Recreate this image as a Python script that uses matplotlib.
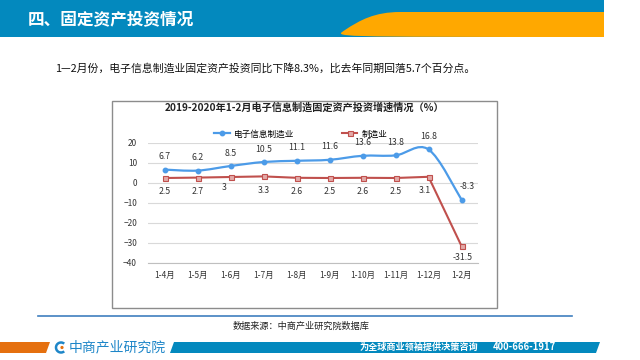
import matplotlib
matplotlib.use('Agg')
import matplotlib.pyplot as plt
from matplotlib.path import Path
from matplotlib.lines import Line2D
from matplotlib.patches import PathPatch, Rectangle, Polygon, Arc, Circle

plt.rcParams['font.family'] = ['Noto Sans CJK SC', 'DejaVu Sans']

# data
months = ['1-4月', '1-5月', '1-6月', '1-7月', '1-8月', '1-9月', '1-10月', '1-11月', '1-12月', '1-2月']
electronics = [6.7, 6.2, 8.5, 10.5, 11.1, 11.6, 13.6, 13.8, 16.8, -8.3]
manufacturing = [2.5, 2.7, 3, 3.3, 2.6, 2.5, 2.6, 2.5, 3.1, -31.5]
y_ticks = [-40, -30, -20, -10, 0, 10, 20]

BLUE = '#4C9BE8'
RED = '#C0504D'


def smooth_path(xs, ys):
    # excel-style smoothed line (catmull-rom as cubic bezier)
    verts = [(xs[0], ys[0])]
    codes = [Path.MOVETO]
    n = len(xs)
    for i in range(n - 1):
        a = i - 1 if i > 0 else i
        b = i + 2 if i + 2 < n else i + 1
        c1 = (xs[i] + (xs[i + 1] - xs[a]) / 6, ys[i] + (ys[i + 1] - ys[a]) / 6)
        c2 = (xs[i + 1] - (xs[b] - xs[i]) / 6, ys[i + 1] - (ys[b] - ys[i]) / 6)
        verts += [c1, c2, (xs[i + 1], ys[i + 1])]
        codes += [Path.CURVE4] * 3
    return Path(verts, codes)


fig = plt.figure(figsize=(6.4, 3.6), dpi=100)

# slide background layer in pixel coords
bg = fig.add_axes([0, 0, 1, 1], zorder=0)
bg.set_xlim(0, 640)
bg.set_ylim(360, 0)
bg.axis('off')

# header band
bg.add_patch(Rectangle((0, 0), 604, 37, color='#0389BE', lw=0))
hdr = Path([(604, 12), (400, 12), (375, 12), (360, 20), (345, 30), (335, 37), (320, 37),
            (604, 37), (604, 12)],
           [Path.MOVETO, Path.LINETO, Path.CURVE4, Path.CURVE4, Path.CURVE4,
            Path.CURVE4, Path.CURVE4, Path.LINETO, Path.CLOSEPOLY])
bg.add_patch(PathPatch(hdr, facecolor='#FFA800', lw=0))
bg.text(28, 19, '四、固定资产投资情况', color='white', fontsize=12, fontweight='bold',
        va='center', ha='left')

bg.text(55, 68, '1—2月份，电子信息制造业固定资产投资同比下降8.3%，比去年同期回落5.7个百分点。',
        fontsize=7.8, va='center', ha='left', color='#111111')

# chart box
bg.add_patch(Rectangle((112, 101), 385, 207, fill=False, ec='#8C8C8C', lw=1))
bg.text(305, 108, '2019-2020年1-2月电子信息制造固定资产投资增速情况（%）',
        fontsize=7.3, fontweight='bold', ha='center', va='center', color='#222222')

# bottom rule + source
bg.plot([38, 572], [316, 316], color='#3F7FBF', lw=1.2)
bg.text(301, 326, '数据来源：中商产业研究院数据库', fontsize=6.6, ha='center', va='center',
        color='#222222')

# footer
bg.add_patch(Polygon([(0, 342), (50, 342), (46, 353), (0, 353)], color='#E5700F', lw=0))
bg.add_patch(Polygon([(174, 342), (600, 342), (596, 353), (170, 353)], color='#0389BE', lw=0))
bg.add_patch(Arc((61, 347.5), 10, 10, theta1=50, theta2=310, color='#1E86C8', lw=1.8))
bg.add_patch(Circle((62, 347.5), 1.6, color='#E5700F', lw=0))
bg.text(69, 347.5, '中商产业研究院', fontsize=10, color='#1E86C8', va='center', ha='left')
bg.text(478, 347.5, '为全球商业领袖提供决策咨询', fontsize=6.6, color='white', fontweight='bold',
        va='center', ha='right')
bg.text(556, 347.5, '400-666-1917', fontsize=6.8, color='white', fontweight='bold',
        va='center', ha='right')

# chart axes
ax = fig.add_axes([148 / 640, 1 - 263 / 360, 330 / 640, 120 / 360], zorder=2)
ax.patch.set_alpha(0)
x = list(range(len(months)))

ax.add_patch(PathPatch(smooth_path(x, electronics), fill=False, ec=BLUE, lw=1.6, zorder=3))
ax.plot(x, electronics, ls='none', marker='o', ms=3.2, color=BLUE, zorder=4)
ax.plot(x, manufacturing, color=RED, lw=1.5, marker='s', ms=3.6, mfc='#E2AAA8', mec=RED,
        mew=0.8, zorder=3)

blue_off = [(0, 13)] * 9 + [(6, 13)]
for i, v in enumerate(electronics):
    ax.annotate(f'{v:g}', (i, v), xytext=blue_off[i], textcoords='offset pixels',
                ha='center', va='center', fontsize=6.3, color='#333333')
red_off = [(0, -14)] * 10
red_off[2] = (-6, -10)
red_off[8] = (-4, -14)
red_off[9] = (1, -12)
for i, v in enumerate(manufacturing):
    ax.annotate(f'{v:g}', (i, v), xytext=red_off[i], textcoords='offset pixels',
                ha='center', va='center', fontsize=6.3, color='#333333')

ax.set_xlim(-0.5, len(months) - 0.5)
ax.set_ylim(-40, 20)
ax.set_yticks(y_ticks)
ax.set_xticks(x)
ax.set_xticklabels(months)
ax.tick_params(axis='both', length=0, labelsize=6, colors='#333333')
ax.tick_params(axis='y', pad=8)
ax.tick_params(axis='x', pad=6)
ax.grid(axis='y', color='#D9D9D9', lw=0.8)
ax.set_axisbelow(True)
for s in ['top', 'left', 'right']:
    ax.spines[s].set_visible(False)
ax.spines['bottom'].set_color('#BFBFBF')

handles = [Line2D([], [], color=BLUE, lw=1.6, marker='o', ms=3.2),
           Line2D([], [], color=RED, lw=1.5, marker='s', ms=3.6, mfc='#E2AAA8', mec=RED,
                  mew=0.8)]
ax.legend(handles, ['电子信息制造业', '制造业'], loc='center', ncol=2,
          bbox_to_anchor=(301 / 640, 1 - 134 / 360), bbox_transform=fig.transFigure,
          frameon=False, fontsize=6.2, handlelength=1.8, columnspacing=5.5,
          handletextpad=0.5)

plt.savefig('out.png', dpi=100)
plt.close()
